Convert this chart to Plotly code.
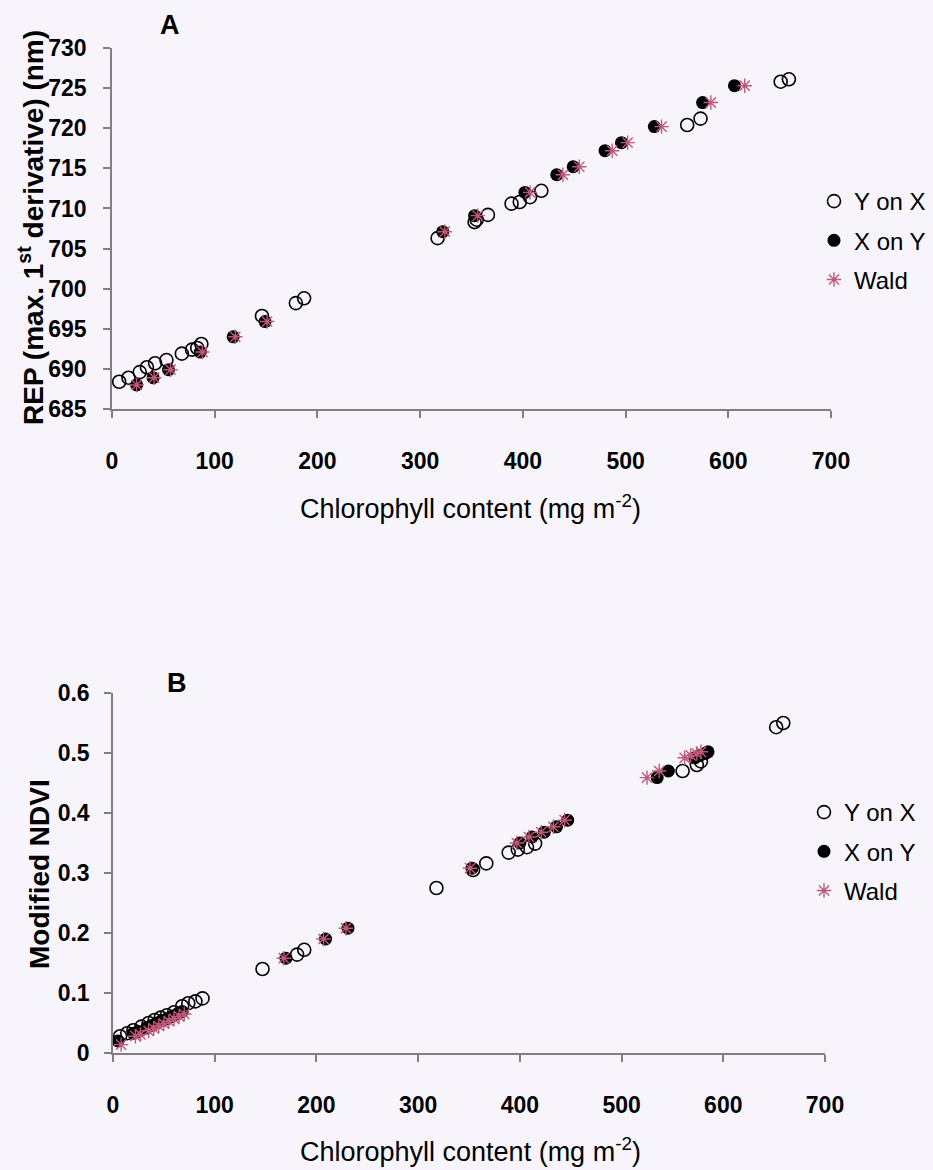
import plotly.graph_objects as go

# ---------------- Panel A data: REP vs chlorophyll ----------------
a_yonx_x = [7, 16, 27, 34, 42, 53, 68, 78, 83, 87, 146, 179, 187, 317, 353, 355, 366, 389, 397, 407, 418, 560, 573, 651, 659]
a_yonx_y = [688.4, 688.9, 689.6, 690.2, 690.7, 691.1, 691.9, 692.4, 692.6, 693.1, 696.6, 698.2, 698.8, 706.3, 708.3,
            708.6, 709.2, 710.6, 710.8, 711.4, 712.2, 720.4, 721.2, 725.8, 726.1]

a_xony_x = [24, 40, 55, 86, 118, 149, 322, 353, 402, 433, 449, 480, 496, 528, 575, 606]
a_xony_y = [688.0, 688.9, 689.9, 692.1, 694.0, 695.9, 707.1, 709.1, 712.0, 714.2, 715.2, 717.2, 718.2, 720.2, 723.2, 725.3]

a_wald_x = [24, 41, 57, 88, 120, 151, 324, 356, 407, 439, 455, 487, 502, 535, 583, 616]
a_wald_y = [688.0, 688.9, 689.9, 692.1, 694.0, 695.9, 707.1, 709.1, 712.0, 714.2, 715.2, 717.2, 718.2, 720.2, 723.2, 725.3]

# ---------------- Panel B data: Modified NDVI vs chlorophyll ----------------
b_yonx_x = [7, 14, 20, 28, 35, 41, 47, 53, 60, 68, 74, 81, 88, 147, 181, 188, 318, 354, 367, 389, 398, 407, 415,
            560, 574, 578, 652, 659]
b_yonx_y = [0.028, 0.033, 0.038, 0.044, 0.050, 0.055, 0.059, 0.063, 0.068, 0.078, 0.083, 0.086, 0.091, 0.140, 0.164,
            0.172, 0.275, 0.305, 0.316, 0.334, 0.339, 0.343, 0.349, 0.470, 0.480, 0.486, 0.543, 0.550]

b_xony_x = [5, 20, 25, 33, 38, 43, 48, 53, 58, 63, 68, 170, 209, 231, 353, 400, 412, 424, 436, 447, 535, 546, 572, 577, 582, 585]
b_xony_y = [0.020, 0.033, 0.036, 0.042, 0.046, 0.050, 0.054, 0.057, 0.061, 0.065, 0.069, 0.158, 0.190, 0.208, 0.308,
            0.350, 0.360, 0.368, 0.377, 0.388, 0.459, 0.470, 0.492, 0.496, 0.499, 0.502]

b_wald_x = [8, 22, 27, 35, 40, 45, 50, 55, 60, 65, 70, 168, 207, 229, 351, 397, 409, 421, 433, 444, 525, 537, 562, 568, 574, 578]
b_wald_y = [0.014, 0.028, 0.031, 0.037, 0.041, 0.045, 0.049, 0.053, 0.057, 0.061, 0.065, 0.158, 0.190, 0.208, 0.308,
            0.350, 0.360, 0.368, 0.377, 0.388, 0.459, 0.470, 0.492, 0.496, 0.499, 0.502]

x_ticks = [0, 100, 200, 300, 400, 500, 600, 700]
a_y_ticks = [685, 690, 695, 700, 705, 710, 715, 720, 725, 730]
b_y_ticks = [0, 0.1, 0.2, 0.3, 0.4, 0.5, 0.6]
b_y_ticklabels = ["0", "0.1", "0.2", "0.3", "0.4", "0.5", "0.6"]

FONT = "Liberation Sans, Arial, sans-serif"
BG = "#f7f5fb"
AXC = "#7f7f7f"
WALD_C = "#c0587a"

fig = go.Figure()


def add_panel(xs_open, ys_open, xs_fill, ys_fill, xs_wald, ys_wald, xa, ya, leg):
    fig.add_trace(go.Scatter(x=xs_open, y=ys_open, mode="markers", name="Y on X",
                             xaxis=xa, yaxis=ya, legend=leg, legendgroup=leg + "1",
                             marker=dict(symbol="circle-open", size=13, color="black", line=dict(width=1.6)),
                             cliponaxis=False))
    fig.add_trace(go.Scatter(x=xs_fill, y=ys_fill, mode="markers", name="X on Y",
                             xaxis=xa, yaxis=ya, legend=leg, legendgroup=leg + "2",
                             marker=dict(symbol="circle", size=13, color="black"),
                             cliponaxis=False))
    fig.add_trace(go.Scatter(x=xs_wald, y=ys_wald, mode="markers", name="Wald",
                             xaxis=xa, yaxis=ya, legend=leg, legendgroup=leg + "3",
                             marker=dict(symbol="asterisk-open", size=12, color=WALD_C, line=dict(width=1.4, color=WALD_C)),
                             cliponaxis=False))


add_panel(a_yonx_x, a_yonx_y, a_xony_x, a_xony_y, a_wald_x, a_wald_y, "x", "y", "legend")
add_panel(b_yonx_x, b_yonx_y, b_xony_x, b_xony_y, b_wald_x, b_wald_y, "x2", "y2", "legend2")

W, H = 933, 1170


def px(xp, yp):
    return xp / W, 1 - yp / H


axis_common = dict(showgrid=False, zeroline=False, showline=True, linecolor=AXC, linewidth=1.5,
                   ticks="outside", ticklen=7, tickcolor=AXC, tickwidth=1.5,
                   tickfont=dict(family=FONT, size=23, color="black", weight="bold"))

title_x_font = dict(family=FONT, size=27, color="black")
title_y_font = dict(family=FONT, size=28, color="black", weight="bold")

annotations = [
    dict(text="<b>A</b>", x=px(170, 0)[0], y=px(0, 25)[1]),
    dict(text="<b>B</b>", x=px(177, 0)[0], y=px(0, 683)[1]),
]
for a in annotations:
    a.update(xref="paper", yref="paper", showarrow=False, xanchor="center", yanchor="middle",
             font=dict(family=FONT, size=27, color="black"))

annotations += [
    dict(text="Chlorophyll content (mg m<sup>-2</sup>)", x=px(471, 0)[0], y=px(0, 507)[1],
         xref="paper", yref="paper", showarrow=False, xanchor="center", yanchor="middle", font=title_x_font),
    dict(text="Chlorophyll content (mg m<sup>-2</sup>)", x=px(470, 0)[0], y=px(0, 1150)[1],
         xref="paper", yref="paper", showarrow=False, xanchor="center", yanchor="middle", font=title_x_font),
    dict(text="REP (max. 1<sup>st</sup> derivative) (nm)", x=px(31, 0)[0], y=px(0, 228)[1], textangle=-90,
         xref="paper", yref="paper", showarrow=False, xanchor="center", yanchor="middle", font=title_y_font),
    dict(text="Modified NDVI", x=px(39, 0)[0], y=px(0, 874)[1], textangle=-90,
         xref="paper", yref="paper", showarrow=False, xanchor="center", yanchor="middle", font=title_y_font),
]

fig.update_layout(
    width=W, height=H,
    margin=dict(l=0, r=0, t=0, b=0, autoexpand=False),
    paper_bgcolor=BG, plot_bgcolor=BG,
    font=dict(family=FONT, color="black"),
    xaxis=dict(domain=[112 / W, 831 / W], range=[0, 700], tickvals=x_ticks, anchor="y",
               ticklabelstandoff=24, **axis_common),
    yaxis=dict(domain=[1 - 409 / H, 1 - 48 / H], range=[685, 730], tickvals=a_y_ticks, anchor="x",
               ticklabelstandoff=12, **axis_common),
    xaxis2=dict(domain=[113 / W, 825 / W], range=[0, 700], tickvals=x_ticks, anchor="y2",
                ticklabelstandoff=24, **axis_common),
    yaxis2=dict(domain=[1 - 1053 / H, 1 - 693 / H], range=[0, 0.6], tickvals=b_y_ticks, ticktext=b_y_ticklabels,
                anchor="x2", ticklabelstandoff=10, **axis_common),
    legend=dict(x=814 / W, y=1 - 179 / H, xanchor="left", yanchor="top", bgcolor="rgba(0,0,0,0)",
                traceorder="grouped", tracegroupgap=5,
                font=dict(family=FONT, size=24, color="black")),
    legend2=dict(x=804 / W, y=1 - 790 / H, xanchor="left", yanchor="top", bgcolor="rgba(0,0,0,0)",
                 traceorder="grouped", tracegroupgap=5,
                 font=dict(family=FONT, size=24, color="black")),
    annotations=annotations,
)

fig.write_html("out.html")
